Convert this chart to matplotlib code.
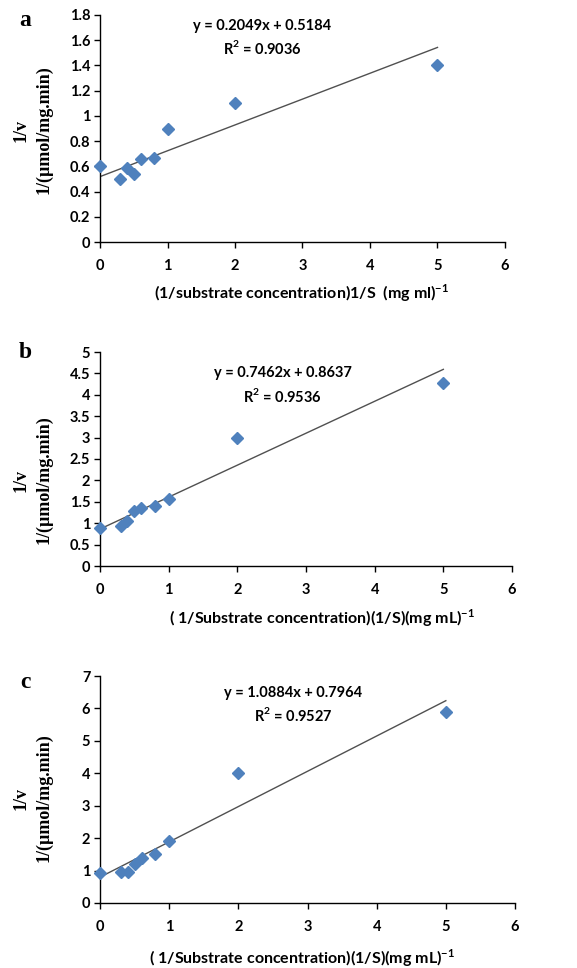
import matplotlib
matplotlib.use('Agg')
import matplotlib.pyplot as plt
import numpy as np

plt.rcParams['font.family'] = ['Lato', 'DejaVu Sans']
plt.rcParams['font.weight'] = 'bold'
plt.rcParams['mathtext.fontset'] = 'custom'
plt.rcParams['mathtext.bf'] = 'Lato:bold'
plt.rcParams['mathtext.rm'] = 'Lato:bold'

# data
inv_s = [0, 0.3, 0.4, 0.5, 0.6, 0.8, 1, 2, 5]
inv_v_a = [0.60, 0.50, 0.59, 0.54, 0.66, 0.67, 0.90, 1.10, 1.40]
inv_v_b = [0.88, 0.93, 1.05, 1.28, 1.35, 1.41, 1.57, 3.00, 4.27]
inv_v_c = [0.93, 0.95, 0.95, 1.20, 1.40, 1.50, 1.90, 4.00, 5.90]

fits = [(0.2049, 0.5184, 0.9036), (0.7462, 0.8637, 0.9536), (1.0884, 0.7964, 0.9527)]
letters = ['a', 'b', 'c']
yticks = [np.arange(0, 1.81, 0.2), np.arange(0, 5.01, 0.5), np.arange(0, 7.01, 1)]
ytick_labels = [
    ['0', '0.2', '0.4', '0.6', '0.8', '1', '1.2', '1.4', '1.6', '1.8'],
    ['0', '0.5', '1', '1.5', '2', '2.5', '3', '3.5', '4', '4.5', '5'],
    ['0', '1', '2', '3', '4', '5', '6', '7'],
]
xlabels = [
    '(1/substrate concentration)1/S  (mg ml)$^{\\mathbf{-1}}$',
    '( 1/Substrate concentration)(1/S)(mg mL)$^{\\mathbf{-1}}$',
    '( 1/Substrate concentration)(1/S)(mg mL)$^{\\mathbf{-1}}$',
]

W, H = 577, 968
fig = plt.figure(figsize=(W / 100, H / 100), dpi=100)

# axes boxes in pixels: left, top, right, bottom
boxes = [(100, 15, 505, 242), (100, 352, 512, 566), (100, 676, 515, 903)]
eq_pos = [(0.40, 0.95, 0.855), (0.444, 0.90, 0.794), (0.465, 0.925, 0.828)]
ylab_y = [130, 480, 798]
xlab_pos = [(302, 293), (322, 618), (302, 958)]
letter_y = [20, 352, 682]

series = [inv_v_a, inv_v_b, inv_v_c]

for i in range(3):
    l, t, r, b = boxes[i]
    ax = fig.add_axes([l / W, (H - b) / H, (r - l) / W, (b - t) / H])
    slope, icpt, r2 = fits[i]
    xs = np.array([0, 5])
    ax.plot(xs, slope * xs + icpt, color='#505050', lw=1.0, zorder=2)
    ax.plot(inv_s, series[i], 'D', color='#4F81BD', ms=6.5, mec='#4F81BD', zorder=3,
            clip_on=False)

    ax.set_xlim(0, 6)
    ax.set_ylim(yticks[i][0], yticks[i][-1])
    ax.set_xticks(range(7))
    ax.set_yticks(yticks[i])
    ax.set_yticklabels(ytick_labels[i])
    ax.tick_params(direction='out', length=4, width=1, labelsize=10.5, pad=3)
    ax.tick_params(axis='x', pad=8)
    for lab in ax.get_xticklabels() + ax.get_yticklabels():
        lab.set_fontweight('bold')
    ax.spines['top'].set_visible(False)
    ax.spines['right'].set_visible(False)
    for s in ['left', 'bottom']:
        ax.spines[s].set_linewidth(1.0)

    ex, ey1, ey2 = eq_pos[i]
    ax.text(ex, ey1, f'y = {slope:.4f}x + {icpt:.4f}', transform=ax.transAxes,
            ha='center', va='center', fontsize=10.5, fontweight='bold')
    ax.text(ex, ey2, f'R$^{{\\mathbf{{2}}}}$ = {r2:.4f}', transform=ax.transAxes,
            ha='center', va='center', fontsize=10.5, fontweight='bold')

    # y label in two lines (serif)
    fig.text(21 / W, (H - ylab_y[i]) / H, '1/v', rotation=90, ha='center', va='center',
             fontsize=13, fontweight='bold', family='Liberation Serif')
    fig.text(44 / W, (H - ylab_y[i]) / H, '1/(µmol/mg.min)', rotation=90, ha='center',
             va='center', fontsize=13, fontweight='bold', family='Liberation Serif')

    xx, xy = xlab_pos[i]
    fig.text(xx / W, (H - xy) / H, xlabels[i], ha='center', va='center',
             fontsize=11.5, fontweight='bold')

    fig.text(25 / W, (H - letter_y[i]) / H, letters[i], ha='center', va='center',
             fontsize=17, fontweight='bold', family='Liberation Serif')

fig.savefig('out.png', dpi=100)
